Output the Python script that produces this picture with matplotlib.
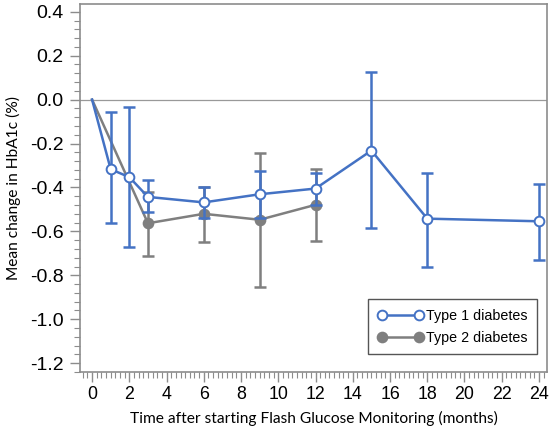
import numpy as np
import matplotlib.pyplot as plt
from matplotlib.lines import Line2D
from matplotlib.ticker import MultipleLocator

# Type 1 diabetes
t1_months = [0, 1, 2, 3, 6, 9, 12, 15, 18, 24]
t1_mean = [0.0, -0.317, -0.353, -0.443, -0.468, -0.431, -0.405, -0.232, -0.542, -0.554]
t1_upper = [0.0, -0.057, -0.032, -0.365, -0.398, -0.325, -0.333, 0.127, -0.333, -0.383]
t1_lower = [0.0, -0.560, -0.670, -0.510, -0.540, -0.540, -0.480, -0.586, -0.762, -0.729]

# Type 2 diabetes
t2_months = [0, 3, 6, 9, 12]
t2_mean = [0.0, -0.563, -0.520, -0.547, -0.479]
t2_upper = [0.0, -0.420, -0.400, -0.244, -0.318]
t2_lower = [0.0, -0.710, -0.650, -0.855, -0.642]

y_ticks = [-1.2, -1.0, -0.8, -0.6, -0.4, -0.2, 0.0, 0.2, 0.4]

blue = "#4472C4"
grey = "#7F7F7F"
frame = "#8C8C8C"

fig = plt.figure(figsize=(5.49, 4.29), dpi=100)
ax = fig.add_axes([0.146, 0.133, 0.850, 0.858])

ax.axhline(0, color="#999999", lw=0.9, zorder=1)

def draw(months, mean, upper, lower, color, face, z):
    m = np.array(months[1:])
    y = np.array(mean[1:])
    yerr = [y - np.array(lower[1:]), np.array(upper[1:]) - y]
    ax.errorbar(m, y, yerr=yerr, fmt="none", ecolor=color, elinewidth=1.8,
                capsize=4, capthick=1.8, zorder=z)
    ax.plot(months, mean, color=color, lw=1.8, zorder=z + 0.5)
    ax.plot(m, y, "o", color=color, mfc=face, mec=color, mew=1.4, ms=7,
            zorder=z + 0.6)

draw(t2_months, t2_mean, t2_upper, t2_lower, grey, grey, 2)
draw(t1_months, t1_mean, t1_upper, t1_lower, blue, "white", 3)

leg_t1 = Line2D([0, 1], [0, 0], color=blue, lw=1.8, marker="o", mfc="white",
                mec=blue, mew=1.4, ms=7)
leg_t2 = Line2D([0, 1], [0, 0], color=grey, lw=1.8, marker="o", mfc=grey,
                mec=grey, mew=1.4, ms=7)
leg = ax.legend([leg_t1, leg_t2], ["Type 1 diabetes", "Type 2 diabetes"],
                loc="lower right", bbox_to_anchor=(0.979, 0.049),
                borderaxespad=0, fancybox=False, edgecolor="#555555",
                framealpha=1, prop={"family": "Liberation Sans", "size": 10.3},
                handlelength=3.2, handletextpad=0.2, borderpad=0.65,
                labelspacing=0.55, numpoints=2)
leg.get_frame().set_linewidth(1.0)

ax.set_xlim(-0.64, 24.42)
ax.set_ylim(-1.24, 0.436)
ax.xaxis.set_major_locator(MultipleLocator(2))
ax.xaxis.set_minor_locator(MultipleLocator(0.25))
ax.yaxis.set_minor_locator(MultipleLocator(0.04))
ax.set_yticks(y_ticks)
ax.set_yticklabels(["%.1f" % v for v in y_ticks])

for s in ax.spines.values():
    s.set_color(frame)
    s.set_linewidth(1.2)

ax.tick_params(which="both", color=frame, direction="out")
ax.tick_params(which="major", length=7, width=1.0)
ax.tick_params(which="minor", length=4, width=0.8)
ax.tick_params(axis="x", labelsize=12.8, pad=3)
ax.tick_params(axis="y", labelsize=14, pad=5)
for lab in ax.get_xticklabels() + ax.get_yticklabels():
    lab.set_family("Liberation Sans")

ax.set_xlabel("Time after starting Flash Glucose Monitoring (months)",
              family="Lato", fontsize=11.2, labelpad=6)
ax.set_ylabel("Mean change in HbA1c (%)", family="Lato",
              fontsize=11.2, labelpad=6)

fig.savefig("out.png", dpi=100)
